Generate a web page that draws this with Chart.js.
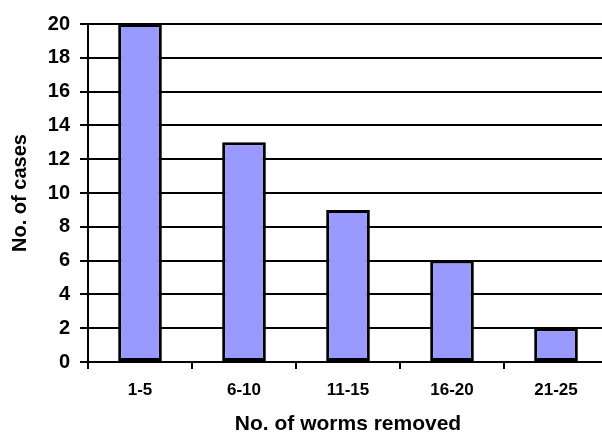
<!DOCTYPE html>
<html>
<head>
<meta charset="utf-8">
<script src="https://cdn.jsdelivr.net/npm/chart.js@4/dist/chart.umd.min.js"></script>
<style>
    html, body { margin: 0; padding: 0; background: #fff; overflow: hidden; }
    #wrap { width: 610px; height: 435px; position: relative; }
</style>
</head>
<body>
<div id="wrap"><canvas id="wormChart"></canvas></div>
<script>
// 데이터
const categories = ['1-5', '6-10', '11-15', '16-20', '21-25'];
const cases = [20, 13, 9, 6, 2];
const yTicks = [0, 2, 4, 6, 8, 10, 12, 14, 16, 18, 20];

const fontFamily = '"Liberation Sans", Arial, sans-serif';

const ctx = document.getElementById('wormChart').getContext('2d');
new Chart(ctx, {
    type: 'bar',
    data: {
        labels: categories,
        datasets: [{
            label: 'No. of cases',
            data: cases,
            backgroundColor: '#9999FF',
            borderColor: '#000000',
            borderWidth: 3,
            borderSkipped: false,
            barPercentage: 0.42,
            categoryPercentage: 1.0
        }]
    },
    options: {
        responsive: true,
        maintainAspectRatio: false,
        animation: false,
        layout: {
            padding: { top: 24, right: 2, bottom: 0, left: 0 }
        },
        plugins: {
            legend: { display: false },
            tooltip: { enabled: false }
        },
        scales: {
            x: {
                grid: {
                    drawOnChartArea: false,
                    drawTicks: true,
                    tickLength: 7,
                    color: '#000',
                    lineWidth: 2
                },
                border: { color: '#000', width: 2 },
                ticks: {
                    color: '#000',
                    padding: 11,
                    maxRotation: 0,
                    font: { family: fontFamily, size: 17, weight: 'bold' }
                },
                title: {
                    display: true,
                    text: 'No. of worms removed',
                    color: '#000',
                    padding: { top: 0, bottom: 0 },
                    font: { family: fontFamily, size: 21, weight: 'bold', lineHeight: 1 }
                },
                afterFit: function(scale) {
                    scale.height = 73;
                }
            },
            y: {
                min: 0,
                max: 20,
                afterBuildTicks: function(scale) {
                    scale.ticks = yTicks.map(v => ({ value: v }));
                },
                grid: {
                    color: '#000',
                    lineWidth: 2,
                    tickLength: 8
                },
                border: { color: '#000', width: 2 },
                ticks: {
                    color: '#000',
                    padding: 10,
                    font: { family: fontFamily, size: 20, weight: 'bold' }
                },
                title: {
                    display: true,
                    text: 'No. of cases',
                    color: '#000',
                    padding: { top: 10, bottom: 0 },
                    font: { family: fontFamily, size: 20, weight: 'bold', lineHeight: 1 }
                },
                afterFit: function(scale) {
                    scale.width = 88;
                }
            }
        }
    }
});
</script>
</body>
</html>
